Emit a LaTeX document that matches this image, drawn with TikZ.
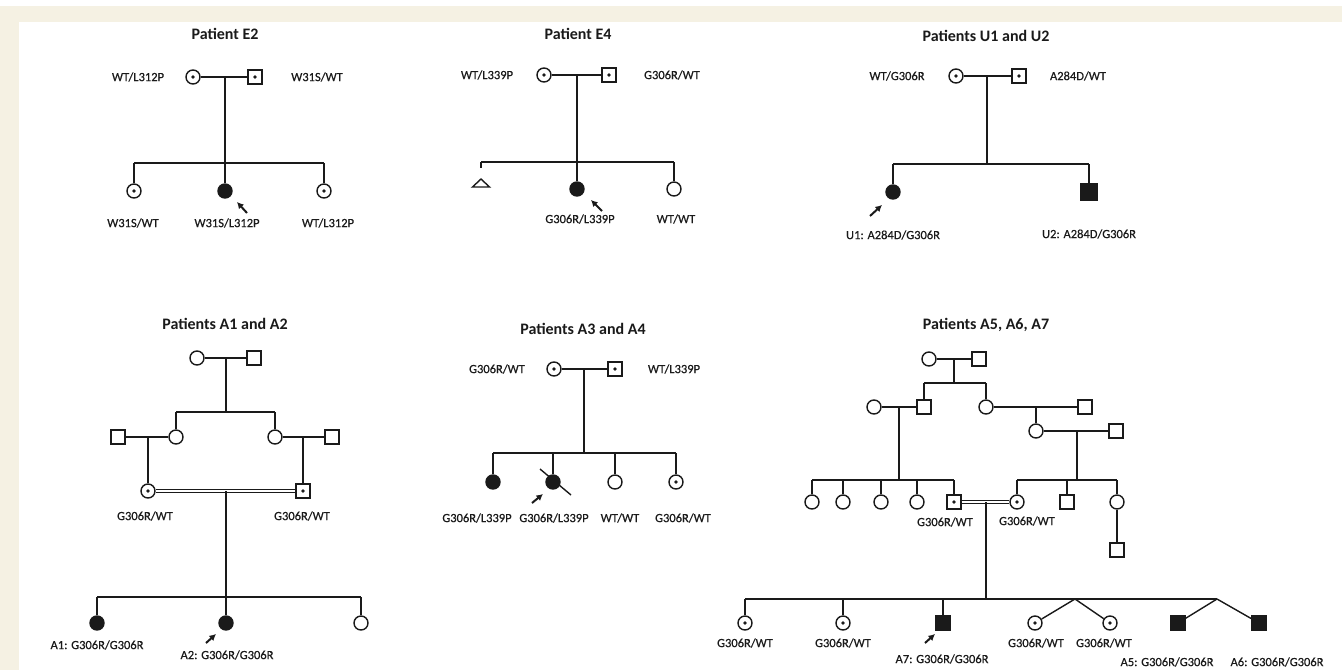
\documentclass[tikz,border=0pt]{standalone}
\usepackage{fontspec}
\setmainfont{Carlito}
\newfontfamily\gtypefont{Carlito}[FakeBold=0.5]
\usetikzlibrary{arrows.meta,calc}
\definecolor{ink}{HTML}{1A1A1A}
\definecolor{cream}{HTML}{F5F1E3}
\tikzset{
  every node/.style={text=ink},
  female/.style={circle, draw=ink, fill=white, line width=1.4pt,
    minimum size=14pt, inner sep=0pt},
  male/.style={rectangle, draw=ink, fill=white, line width=1.4pt,
    minimum size=14pt, inner sep=0pt},
  carrier/.style={path picture={\fill[ink] (path picture bounding box.center) circle (1.9pt);}},
  affected/.style={fill=ink},
  smallsym/.style={minimum size=12.5pt},
  line/.style={draw=ink, line width=1.4pt},
  consang/.style={draw=ink, line width=1pt, double=white, double distance=1.4pt},
  proband/.style={-{Latex[length=6.5pt,width=7pt]}, draw=ink, line width=2pt},
  gtype/.style={font=\gtypefont\fontsize{12.5}{14}\selectfont, inner sep=1pt},
  ptitle/.style={font=\fontsize{16}{18}\selectfont\bfseries, inner sep=1pt}
}

\begin{document}
\begin{tikzpicture}[x=1pt,y=-1pt]
\useasboundingbox (0,0) rectangle (1342,670);
\fill[white] (0,0) rectangle (1342,670);
\fill[cream] (0,6) rectangle (1342,22);
\fill[cream] (0,6) rectangle (19,670);

% ---------------------------------------------------------------------------
% Patient E2
% ---------------------------------------------------------------------------
\node[ptitle] (e2title) at (225,34) {Patient E2};
\node[female, carrier] (e2mo) at (193,77) {};
\node[male, carrier] (e2fa) at (255,77) {};
\node[gtype] (e2moL) at (138,77) {WT/L312P};
\node[gtype] (e2faL) at (317,77) {W31S/WT};
\coordinate (e2d) at (225,77);
\coordinate (e2s) at (225,163);
\node[female, carrier] (e2k1) at (134,191) {};
\node[female, affected] (e2k2) at (225,191) {};
\node[female, carrier] (e2k3) at (324,191) {};
\node[gtype] at (133,223) {W31S/WT};
\node[gtype] at (227,223) {W31S/L312P};
\node[gtype] at (328,223) {WT/L312P};

\draw[line] (e2mo) -- (e2fa);
\draw[line] (e2d) -- (e2s);
\draw[line] (e2k1 |- e2s) -- (e2k3 |- e2s);
\foreach \k in {e2k1,e2k2,e2k3}
  \draw[line] (\k |- e2s) -- (\k);
\draw[proband] ($(e2k2)+(22,22)$) -- ($(e2k2)+(12,11)$);

% ---------------------------------------------------------------------------
% Patient E4
% ---------------------------------------------------------------------------
\node[ptitle] (e4title) at (578,34) {Patient E4};
\node[female, carrier] (e4mo) at (544,75) {};
\node[male, carrier] (e4fa) at (609,75) {};
\node[gtype] at (487,75) {WT/L339P};
\node[gtype] at (672,75) {G306R/WT};
\coordinate (e4d) at (577,75);
\coordinate (e4s) at (577,162);
\coordinate (e4loss) at (481,183);
\coordinate (e4lossTop) at (481,168);
\node[female, affected] (e4k2) at (577,189) {};
\node[female] (e4k3) at (674,189) {};
\node[gtype] at (580,219) {G306R/L339P};
\node[gtype] at (676,219) {WT/WT};

\draw[line] (e4mo) -- (e4fa);
\draw[line] (e4d) -- (e4s);
\draw[line] (e4loss |- e4s) -- (e4k3 |- e4s);
\draw[line] (e4loss |- e4s) -- (e4lossTop);
\draw[line] ($(e4loss)+(0,-4)$) -- ($(e4loss)+(8.5,4)$) -- ($(e4loss)+(-8.5,4)$) -- cycle;
\foreach \k in {e4k2,e4k3}
  \draw[line] (\k |- e4s) -- (\k);
\draw[proband] ($(e4k2)+(25,22)$) -- ($(e4k2)+(14,11)$);

% ---------------------------------------------------------------------------
% Patients U1 and U2
% ---------------------------------------------------------------------------
\node[ptitle] (u12title) at (986,36) {Patients U1 and U2};
\node[female, carrier] (u12mo) at (956,76) {};
\node[male, carrier] (u12fa) at (1019,76) {};
\node[gtype] at (897,76) {WT/G306R};
\node[gtype] at (1078,76) {A284D/WT};
\coordinate (u12d) at (987,76);
\coordinate (u12s) at (987,164);
\node[female, affected] (u1) at (893,192) {};
\node[male, affected, minimum size=16pt] (u2) at (1089,192) {};
\node[gtype] at (893,235) {U1: A284D/G306R};
\node[gtype] at (1089,234) {U2: A284D/G306R};

\draw[line] (u12mo) -- (u12fa);
\draw[line] (u12d) -- (u12s);
\draw[line] (u1 |- u12s) -- (u2 |- u12s);
\foreach \k in {u1,u2}
  \draw[line] (\k |- u12s) -- (\k);
\draw[proband] ($(u1)+(-23,24)$) -- ($(u1)+(-11,13)$);

% ---------------------------------------------------------------------------
% Patients A1 and A2
% ---------------------------------------------------------------------------
\node[ptitle] (a12title) at (225,324) {Patients A1 and A2};
\node[female] (a12gmo) at (197,358) {};
\node[male] (a12gfa) at (254,358) {};
\coordinate (a12d) at (226,358);
\coordinate (a12s) at (226,412);
\node[male] (a12sqL) at (118,437) {};
\node[female] (a12dL) at (176,437) {};
\node[female] (a12dR) at (275,437) {};
\node[male] (a12sqR) at (332,437) {};
\coordinate (a12mL) at (148,437);
\coordinate (a12mR) at (303,437);
\node[female, carrier] (a12mo) at (148,491) {};
\node[male, carrier] (a12fa) at (303,491) {};
\node[gtype] at (145,516) {G306R/WT};
\node[gtype] at (302,516) {G306R/WT};
\coordinate (a12d2) at (226,491);
\coordinate (a12s2) at (226,597);
\node[female, affected] (a1) at (97,623) {};
\node[female, affected] (a2) at (226,623) {};
\node[female] (a12k3) at (361,623) {};
\node[gtype] at (97,645) {A1: G306R/G306R};
\node[gtype] at (227,655) {A2: G306R/G306R};

\draw[line] (a12gmo) -- (a12gfa);
\draw[line] (a12d) -- (a12s);
\draw[line] (a12dL |- a12s) -- (a12dR |- a12s);
\foreach \k in {a12dL,a12dR}
  \draw[line] (\k |- a12s) -- (\k);
\draw[line] (a12sqL) -- (a12dL);
\draw[line] (a12dR) -- (a12sqR);
\draw[line] (a12mL) -- (a12mo);
\draw[line] (a12mR) -- (a12fa);
\draw[consang] (a12mo) -- (a12fa);
\draw[line] (a12d2) -- (a12s2);
\draw[line] (a1 |- a12s2) -- (a12k3 |- a12s2);
\foreach \k in {a1,a2,a12k3}
  \draw[line] (\k |- a12s2) -- (\k);
\draw[proband] ($(a2)+(-20,20)$) -- ($(a2)+(-10,11)$);

% ---------------------------------------------------------------------------
% Patients A3 and A4
% ---------------------------------------------------------------------------
\node[ptitle] (a34title) at (583,329) {Patients A3 and A4};
\node[female, carrier] (a34mo) at (554,369) {};
\node[male, carrier] (a34fa) at (615,369) {};
\node[gtype] at (497,369) {G306R/WT};
\node[gtype] at (674,369) {WT/L339P};
\coordinate (a34d) at (584,369);
\coordinate (a34s) at (584,453);
\node[female, affected] (a3) at (493,482) {};
\node[female, affected] (a4) at (553,482) {};
\node[female] (a34k3) at (615,482) {};
\node[female, carrier] (a34k4) at (676,482) {};
\node[gtype] at (477,518) {G306R/L339P};
\node[gtype] at (554,518) {G306R/L339P};
\node[gtype] at (620,518) {WT/WT};
\node[gtype] at (683,518) {G306R/WT};

\draw[line] (a34mo) -- (a34fa);
\draw[line] (a34d) -- (a34s);
\draw[line] (a3 |- a34s) -- (a34k4 |- a34s);
\foreach \k in {a3,a4,a34k3,a34k4}
  \draw[line] (\k |- a34s) -- (\k);
\draw[line] ($(a4)+(-13,-13)$) -- ($(a4)+(18,13)$);
\draw[proband] ($(a4)+(-21,21)$) -- ($(a4)+(-10,12)$);

% ---------------------------------------------------------------------------
% Patients A5, A6, A7
% ---------------------------------------------------------------------------
\begin{scope}[every node/.append style={smallsym}]
\node[ptitle] (a57title) at (986,325) {Patients A5, A6, A7};
% generation I
\node[female] (g1mo) at (929,359) {};
\node[male] (g1fa) at (979,359) {};
\coordinate (g1d) at (954,359);
\coordinate (g1s) at (954,383);
% generation II
\node[female] (g2wL) at (874,407) {};
\node[male] (g2son) at (924,407) {};
\node[female] (g2dau) at (986,407) {};
\node[male] (g2hR) at (1085,407) {};
\coordinate (g2dL) at (899,407);
\coordinate (g2sL) at (899,480);
\coordinate (g2dR) at (1036,407);
\node[female] (g2gd) at (1036,431) {};
\node[male] (g2gh) at (1116,431) {};
\coordinate (g2dR2) at (1077,431);
\coordinate (g2sR) at (1077,480);
% generation III
\node[female] (g3a) at (812,502) {};
\node[female] (g3b) at (843,502) {};
\node[female] (g3c) at (881,502) {};
\node[female] (g3d) at (917,502) {};
\node[male, carrier] (g3fa) at (954,502) {};
\node[female, carrier] (g3mo) at (1017,502) {};
\node[male] (g3f) at (1067,502) {};
\node[female] (g3g) at (1117,502) {};
\node[male] (g3gk) at (1117,550) {};
\node[gtype] at (945,522) {G306R/WT};
\node[gtype] at (1027,521) {G306R/WT};
\coordinate (g3d2) at (986,502);
\coordinate (g3s) at (986,599);
% generation IV
\node[female, carrier] (g4a) at (745,623) {};
\node[female, carrier] (g4b) at (843,623) {};
\node[male, affected] (a7) at (943,623) {};
\coordinate (g4tw1) at (1075,599);
\node[female, carrier] (g4c) at (1035,623) {};
\node[female, carrier] (g4d) at (1110,623) {};
\coordinate (g4tw2) at (1217,599);
\node[male, affected] (a5) at (1178,623) {};
\node[male, affected] (a6) at (1259,623) {};
\node[gtype] at (745,643) {G306R/WT};
\node[gtype] at (843,643) {G306R/WT};
\node[gtype] at (1036,643) {G306R/WT};
\node[gtype] at (1104,643) {G306R/WT};
\node[gtype] at (942,659) {A7: G306R/G306R};
\node[gtype] at (1167,662) {A5: G306R/G306R};
\node[gtype] at (1277,662) {A6: G306R/G306R};
\end{scope}

\draw[line] (g1mo) -- (g1fa);
\draw[line] (g1d) -- (g1s);
\draw[line] (g2son |- g1s) -- (g2dau |- g1s);
\foreach \k in {g2son,g2dau}
  \draw[line] (\k |- g1s) -- (\k);
\draw[line] (g2wL) -- (g2son);
\draw[line] (g2dau) -- (g2hR);
\draw[line] (g2dR) -- (g2gd);
\draw[line] (g2gd) -- (g2gh);
\draw[line] (g2dL) -- (g2sL);
\draw[line] (g2dR2) -- (g2sR);
\draw[line] (g3a |- g2sL) -- (g3fa |- g2sL);
\foreach \k in {g3a,g3b,g3c,g3d,g3fa}
  \draw[line] (\k |- g2sL) -- (\k);
\draw[line] (g3mo |- g2sR) -- (g3g |- g2sR);
\foreach \k in {g3mo,g3f,g3g}
  \draw[line] (\k |- g2sR) -- (\k);
\draw[line] (g3g) -- (g3gk);
\draw[consang] (g3fa) -- (g3mo);
\draw[line] (g3d2) -- (g3s);
\draw[line] (g4a |- g3s) -- (g4tw2);
\foreach \k in {g4a,g4b,a7}
  \draw[line] (\k |- g3s) -- (\k);
\draw[line] (g4tw1) -- (g4c);
\draw[line] (g4tw1) -- (g4d);
\draw[line] (g4tw2) -- (a5);
\draw[line] (g4tw2) -- (a6);
\draw[proband] ($(a7)+(-18,20)$) -- ($(a7)+(-8,11)$);

\end{tikzpicture}
\end{document}
